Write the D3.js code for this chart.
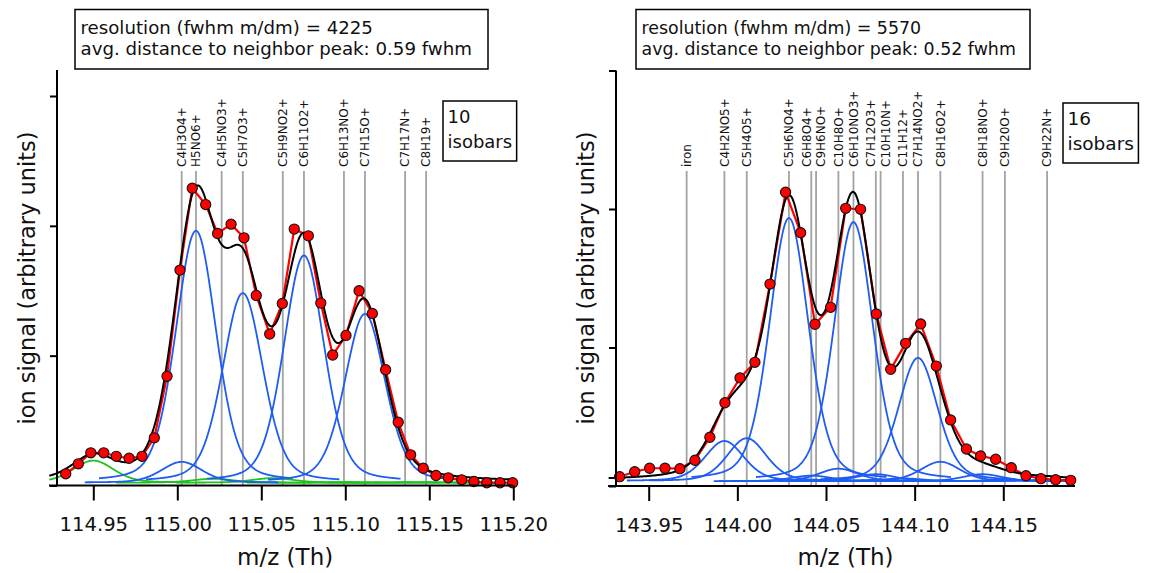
<!DOCTYPE html>
<html>
<head>
<meta charset="utf-8">
<script src="https://cdn.jsdelivr.net/npm/d3@7/dist/d3.min.js"></script>
<style>
  body { margin: 0; background: #fff; }
  svg { display: block; }
</style>
</head>
<body>
<div id="chart"></div>
<script>
// ======== data ========

// --- left panel (nominal mass 115) ---
const leftResolution = 4225;
const leftNeighbor = "0.59";
const leftIsobarCount = 10;
const leftDotMz = [114.9336, 114.9411, 114.9485, 114.9562, 114.9637, 114.9713, 114.9790, 114.9863, 114.9939,
  115.0016, 115.0089, 115.0169, 115.0240, 115.0320, 115.0397, 115.0470, 115.0550, 115.0625, 115.0696,
  115.0780, 115.0854, 115.0925, 115.1004, 115.1082, 115.1161, 115.1240, 115.1315, 115.1389, 115.1464,
  115.1540, 115.1613, 115.1693, 115.1766, 115.1842, 115.1921, 115.1996];
const leftDotSignal = [0.09, 0.167, 0.252, 0.252, 0.225, 0.21, 0.225, 0.367, 0.841,
  1.659, 2.29, 2.164, 1.941, 2.013, 1.908, 1.464, 1.167, 1.402, 1.975,
  1.923, 1.405, 1.005, 1.156, 1.5, 1.325, 0.892, 0.487, 0.236, 0.133,
  0.077, 0.059, 0.044, 0.031, 0.021, 0.021, 0.021];
const leftIsobarNames = ["C4H3O4+", "H5NO6+", "C4H5NO3+", "C5H7O3+", "C5H9NO2+", "C6H11O2+",
  "C6H13NO+", "C7H15O+", "C7H17N+", "C8H19+"];
const leftIsobarMz = [115.0026, 115.0111, 115.0264, 115.0390, 115.0628, 115.0754,
  115.0992, 115.1117, 115.1356, 115.1481];
// fitted peaks (blue) and other peaks (green)
const leftBlueMz = [115.0026, 115.0111, 115.0390, 115.0754, 115.1117];
const leftBlueHeight = [0.16, 1.94, 1.46, 1.75, 1.30];
const leftGreenMz = [114.9500, 115.0213, 115.0569, 115.0992, 115.1356, 115.1481];
const leftGreenHeight = [0.17, 0.03, 0.035, 0.004, 0.003, 0.003];
const leftBaseline = 0.022;
const leftFwhm = 0.0285;
const leftWindow = 0.0577;
const leftTicks = [114.95, 115.00, 115.05, 115.10, 115.15, 115.20];
const leftTickLabels = ["114.95", "115.00", "115.05", "115.10", "115.15", "115.20"];

// --- right panel (nominal mass 144) ---
const rightResolution = 5570;
const rightNeighbor = "0.52";
const rightIsobarCount = 16;
const rightDotMz = [143.9336, 143.9421, 143.9505, 143.9592, 143.9676, 143.9761, 143.9845, 143.9930,
  144.0015, 144.0099, 144.0184, 144.0272, 144.0357, 144.0438, 144.0526, 144.0611, 144.0695,
  144.0784, 144.0865, 144.0949, 144.1034, 144.1122, 144.1203, 144.1292, 144.1372, 144.1457,
  144.1545, 144.1628, 144.1712, 144.1795, 144.1880];
const rightDotSignal = [0.067, 0.103, 0.128, 0.128, 0.125, 0.186, 0.352, 0.601,
  0.78, 0.893, 1.458, 2.121, 1.829, 1.168, 1.29, 2.005, 1.998,
  1.242, 0.843, 1.03, 1.17, 0.866, 0.477, 0.267, 0.217, 0.193,
  0.132, 0.074, 0.053, 0.045, 0.041];
const rightIsobarNames = ["iron", "C4H2NO5+", "C5H4O5+", "C5H6NO4+", "C6H8O4+", "C9H6NO+", "C10H8O+",
  "C6H10NO3+", "C7H12O3+", "C10H10N+", "C11H12+", "C7H14NO2+", "C8H16O2+", "C8H18NO+", "C9H20O+", "C9H22N+"];
const rightIsobarMz = [143.9714, 143.9927, 144.0053, 144.0291, 144.0417, 144.0444, 144.0570,
  144.0655, 144.0781, 144.0808, 144.0934, 144.1019, 144.1145, 144.1383, 144.1509, 144.1747];
const rightBlueMz = [143.9927, 144.0053, 144.0291, 144.0417, 144.0444, 144.0570, 144.0655,
  144.0781, 144.0808, 144.0934, 144.1019, 144.1145, 144.1383, 144.1509, 144.1747];
const rightBlueHeight = [0.29, 0.31, 1.9, 0.04, 0.01, 0.09, 1.87,
  0.05, 0.01, 0.02, 0.89, 0.14, 0.05, 0.01, 0.01];
const rightBaseline = 0.035;
const rightFwhm = 0.026;
const rightWindow = 0.055;
const rightTicks = [143.95, 144.00, 144.05, 144.10, 144.15];
const rightTickLabels = ["143.95", "144.00", "144.05", "144.10", "144.15"];

const yTicks = [0, 1, 2, 3];

// ======== layout ========
let svgWidth = 1149;
let svgHeight = 573;
let font = "DejaVu Sans";
let eta = 0.3; // lorentz share of the peak shape
let labelGap = 14.5; // min. distance between isobar names

let svg = d3.select("#chart")
  .append("svg")
  .attr("width", svgWidth)
  .attr("height", svgHeight);

// peak shape (pseudo voigt), 1 at the centre
function peakShape(dx, fwhm) {
  let u = dx / (fwhm / 2);
  return eta / (1 + u * u) + (1 - eta) * Math.exp(-Math.LN2 * u * u);
}

// push name positions apart so the rotated labels do not overlap
function spreadLabels(xs) {
  let pos = xs.slice();
  for (let k = 0; k < 60; k++) {
    for (let i = 1; i < pos.length; i++) {
      let d = pos[i] - pos[i - 1];
      if (d < labelGap) {
        let shift = (labelGap - d) / 2;
        pos[i - 1] -= shift;
        pos[i] += shift;
      }
    }
  }
  return pos;
}

function drawPanel(p) {
  let g = svg.append("g");

  let xScale = d3.scaleLinear().domain(p.xDomain).range(p.xRange);
  let yScale = d3.scaleLinear().domain([0, 3]).range([p.yBase, p.yTop]);

  let clipId = "clip" + p.id;
  svg.append("clipPath").attr("id", clipId)
    .append("rect")
    .attr("x", p.lineX0).attr("y", 60)
    .attr("width", p.lineX1 - p.lineX0).attr("height", p.yBase - 60 + 1);

  // isobar marker lines + names
  g.selectAll(".isoLine").data(p.isoMz).enter()
    .append("line")
    .attr("x1", d => xScale(d)).attr("x2", d => xScale(d))
    .attr("y1", 171).attr("y2", p.yBase)
    .attr("stroke", "#a3a3a3").attr("stroke-width", 1.8);

  let labelX = spreadLabels(p.isoMz.map(d => xScale(d)));
  g.selectAll(".isoName").data(p.isoNames).enter()
    .append("text")
    .attr("transform", (d, i) => "translate(" + labelX[i] + ",167)rotate(-90)")
    .attr("dy", "0.36em")
    .attr("font-family", font).attr("font-size", 12)
    .attr("fill", "#111")
    .text(d => d);

  let curves = g.append("g").attr("clip-path", "url(#" + clipId + ")");
  let line = d3.line().x(d => xScale(d[0])).y(d => yScale(d[1]));

  // single peaks, each shown over a window around its centre
  function peakPoints(mz, h) {
    let pts = [];
    let lo = Math.max(mz - p.window, p.xStart);
    let hi = Math.min(mz + p.window, p.xEnd);
    for (let m = lo; m <= hi + 1e-9; m += 0.0004) {
      pts.push([m, p.baseline + h * peakShape(m - mz, p.fwhm)]);
    }
    return pts;
  }

  p.greenMz.forEach((mz, i) => {
    curves.append("path").attr("d", line(peakPoints(mz, p.greenH[i])))
      .attr("fill", "none").attr("stroke", "#1fc21f").attr("stroke-width", 1.8);
  });
  p.blueMz.forEach((mz, i) => {
    curves.append("path").attr("d", line(peakPoints(mz, p.blueH[i])))
      .attr("fill", "none").attr("stroke", "#1f5cf2").attr("stroke-width", 1.8);
  });

  // measured spectrum (red)
  let dots = p.dotMz.map((m, i) => [m, p.dotSig[i]]);
  curves.append("path").attr("d", line(dots))
    .attr("fill", "none").attr("stroke", "#ff0000").attr("stroke-width", 2.2);

  // sum of all peaks (black)
  let allMz = p.blueMz.concat(p.greenMz);
  let allH = p.blueH.concat(p.greenH);
  let sumPts = [];
  for (let m = p.xStart; m <= p.xEnd + 1e-9; m += 0.0004) {
    let s = p.baseline;
    allMz.forEach((c, i) => { s += allH[i] * peakShape(m - c, p.fwhm); });
    sumPts.push([m, s]);
  }
  curves.append("path").attr("d", line(sumPts))
    .attr("fill", "none").attr("stroke", "#000").attr("stroke-width", 2);

  g.selectAll(".dot").data(dots).enter()
    .append("circle")
    .attr("cx", d => xScale(d[0])).attr("cy", d => yScale(d[1]))
    .attr("r", 5.1)
    .attr("fill", "#ff0000").attr("stroke", "#111").attr("stroke-width", 1.1);

  // x axis
  let xAxis = d3.axisBottom(xScale)
    .tickValues(p.ticks)
    .tickFormat((d, i) => p.tickLabels[i])
    .tickSize(15).tickSizeOuter(0);
  let xg = g.append("g")
    .attr("transform", "translate(0," + p.yBase + ")")
    .call(xAxis);
  xg.select(".domain").remove();
  xg.selectAll(".tick line").attr("stroke", "#000").attr("stroke-width", 2);
  xg.selectAll(".tick text")
    .attr("y", 45.5).attr("dy", null)
    .attr("font-family", font).attr("font-size", 19.6).attr("fill", "#111");
  g.append("line")
    .attr("x1", p.lineX0).attr("x2", p.lineX1)
    .attr("y1", p.yBase).attr("y2", p.yBase)
    .attr("stroke", "#000").attr("stroke-width", 2);

  // y axis (no labels)
  let yAxis = d3.axisLeft(yScale).tickValues(yTicks).tickFormat("").tickSize(7).tickSizeOuter(0);
  let yg = g.append("g")
    .attr("transform", "translate(" + p.axisY + ",0)")
    .call(yAxis);
  yg.select(".domain").remove();
  yg.selectAll(".tick line").attr("stroke", "#000").attr("stroke-width", 2);
  g.append("line")
    .attr("x1", p.axisY).attr("x2", p.axisY)
    .attr("y1", p.axisTop).attr("y2", p.yBase)
    .attr("stroke", "#000").attr("stroke-width", 2);

  // axis titles
  g.append("text")
    .attr("x", (p.axisY + p.lineX1) / 2).attr("y", 565)
    .attr("text-anchor", "middle")
    .attr("font-family", font).attr("font-size", 23).attr("fill", "#111")
    .text("m/z (Th)");
  g.append("text")
    .attr("transform", "translate(" + (p.axisY - 30.5) + ",278)rotate(-90)")
    .attr("text-anchor", "middle").attr("dy", "0.36em")
    .attr("font-family", font).attr("font-size", 22.5).attr("fill", "#111")
    .text("ion signal (arbitrary units)");

  // resolution box
  let info = g.append("g");
  info.append("rect")
    .attr("x", p.infoX).attr("y", 9.5)
    .attr("width", p.infoW).attr("height", 59.5)
    .attr("fill", "#fff").attr("stroke", "#000").attr("stroke-width", 1.5);
  info.append("text")
    .attr("x", p.infoX + 5.5).attr("y", 33.5)
    .attr("font-family", font).attr("font-size", p.infoFont).attr("fill", "#111")
    .text("resolution (fwhm m/dm) = " + p.resolution);
  info.append("text")
    .attr("x", p.infoX + 5.5).attr("y", 54.5)
    .attr("font-family", font).attr("font-size", p.infoFont).attr("fill", "#111")
    .text("avg. distance to neighbor peak: " + p.neighbor + " fwhm");

  // isobar count box
  let cnt = g.append("g");
  let cntRect = cnt.append("rect")
    .attr("x", p.cntX).attr("y", p.cntY)
    .attr("height", 60)
    .attr("fill", "#fff").attr("stroke", "#000").attr("stroke-width", 1.5);
  cnt.append("text")
    .attr("x", p.cntX + 4.5).attr("y", p.cntY + 22)
    .attr("font-family", font).attr("font-size", p.cntFont).attr("fill", "#111")
    .text(p.count);
  let t2 = cnt.append("text")
    .attr("x", p.cntX + 4.5).attr("y", p.cntY + 47)
    .attr("font-family", font).attr("font-size", p.cntFont).attr("fill", "#111")
    .text("isobars");
  cntRect.attr("width", t2.node().getComputedTextLength() + 9);
}

drawPanel({
  id: "L",
  xDomain: [114.95, 115.20], xRange: [93.3, 513.3],
  yBase: 485.5, yTop: 96, axisY: 57, axisTop: 70,
  lineX0: 49, lineX1: 513.3, xStart: 114.9238, xEnd: 115.20,
  isoMz: leftIsobarMz, isoNames: leftIsobarNames,
  blueMz: leftBlueMz, blueH: leftBlueHeight,
  greenMz: leftGreenMz, greenH: leftGreenHeight,
  baseline: leftBaseline, fwhm: leftFwhm, window: leftWindow,
  dotMz: leftDotMz, dotSig: leftDotSignal,
  ticks: leftTicks, tickLabels: leftTickLabels,
  infoX: 75, infoW: 413, infoFont: 18.2, resolution: leftResolution, neighbor: leftNeighbor,
  cntX: 443, cntY: 101, cntFont: 18, count: leftIsobarCount
});

drawPanel({
  id: "R",
  xDomain: [143.95, 144.15], xRange: [648.7, 1003.3],
  yBase: 486, yTop: 70.5, axisY: 616, axisTop: 70.5,
  lineX0: 608, lineX1: 1075, xStart: 143.9274, xEnd: 144.191,
  isoMz: rightIsobarMz, isoNames: rightIsobarNames,
  blueMz: rightBlueMz, blueH: rightBlueHeight,
  greenMz: [], greenH: [],
  baseline: rightBaseline, fwhm: rightFwhm, window: rightWindow,
  dotMz: rightDotMz, dotSig: rightDotSignal,
  ticks: rightTicks, tickLabels: rightTickLabels,
  infoX: 636, infoW: 394, infoFont: 17.4, resolution: rightResolution, neighbor: rightNeighbor,
  cntX: 1063, cntY: 103, cntFont: 18.5, count: rightIsobarCount
});
</script>
</body>
</html>
